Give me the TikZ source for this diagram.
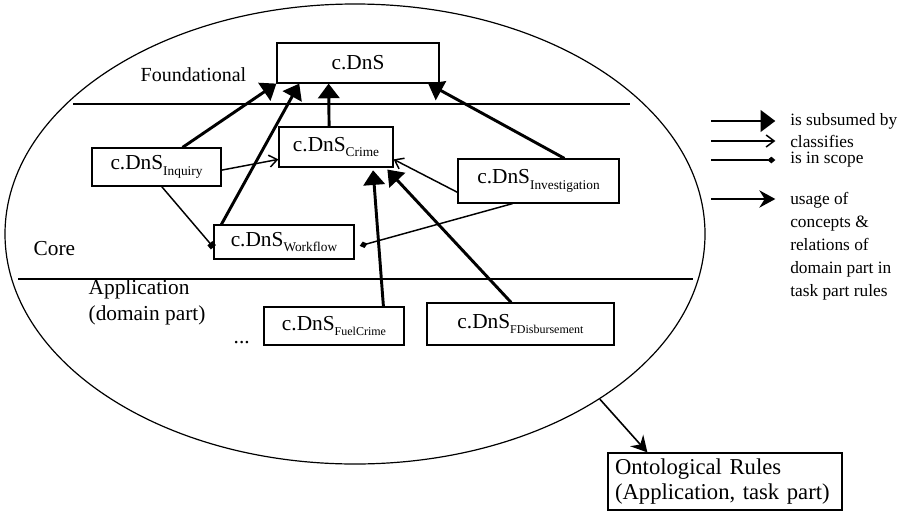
\documentclass[tikz,border=0pt]{standalone}
\usepackage{fontspec}
\setmainfont{Liberation Serif}
\usetikzlibrary{arrows.meta,calc,shapes.geometric}

% c.DnS with a lowered, smaller subscript
\newcommand{\dns}[2][10]{c.DnS\raisebox{-0.55ex}{\fontsize{#1}{#1}\selectfont #2}}

\begin{document}
\begin{tikzpicture}[x=0.75pt, y=-0.75pt,
                    every node/.style={font=\fontsize{16}{19}\selectfont},
                    dnsbox/.style={draw, line width=0.9pt, inner sep=0pt},
                    layer/.style={line width=0.9pt},
                    subsumed/.style={line width=2.2pt, -{Triangle[length=11pt, width=16pt]}},
                    classify/.style={line width=1.1pt, -{Straight Barb[length=6pt, width=9pt]}},
                    inscope/.style={line width=1.1pt, -{Diamond[length=6pt, width=5pt]}},
                    usage/.style={line width=1.2pt, -{Stealth[length=12pt, width=13pt, inset=4pt]}},
                    legend/.style={anchor=west, inner sep=0pt, font=\fontsize{13}{17.25}\selectfont, align=left}]

    \useasboundingbox (0,0) rectangle (905,521);

    % the domain ellipse and its layers
    \node[ellipse, draw, line width=0.9pt, minimum width=525pt, minimum height=345pt, inner sep=0pt] (domain) at (355,234) {};
    \draw[layer] (73,104) -- (630,104);   % foundational / core
    \draw[layer] (18,279) -- (693,279);   % core / application

    % layer names
    \node[anchor=base, font=\fontsize{15}{18}\selectfont] (found) at (193.5,81) {Foundational};
    \node[anchor=base west] (core) at (29,255) {Core};
    \node[anchor=base west, align=left] (app) at (84,320) {Application\\(domain part)};
    \node[anchor=base west] (dots) at (229,343) {...};

    % descriptions and situations
    \node[dnsbox, minimum width=121.5pt, minimum height=30pt] (top) at (358,63) {c.DnS};
    \node[dnsbox, minimum width=85.5pt, minimum height=30pt] (crime) at (336,147) {\dns{Crime}};
    \node[dnsbox, minimum width=96.75pt, minimum height=28.5pt] (inq) at (156.5,167) {\dns{Inquiry}};
    \node[dnsbox, minimum width=120.75pt, minimum height=33pt] (inv) at (538.5,181) {\dns{Investigation}};
    \node[dnsbox, minimum width=105pt, minimum height=25.5pt] (work) at (284,242) {\dns{Workflow}};
    \node[dnsbox, minimum width=105pt, minimum height=28.5pt] (fuel) at (334,326) {\dns[9]{FuelCrime}};
    \node[dnsbox, minimum width=140.25pt, minimum height=31.5pt] (disb) at (520.5,324) {\dns[9]{FDisbursement}};

    % rules box outside the ellipse
    \node[dnsbox, minimum height=42.75pt, inner xsep=5.25pt, text width=165pt, align=left,
          font=\fontsize{17}{18.75}\selectfont] (rules) at (725,481.5) {Ontological Rules\\(Application, task part)};

    % is subsumed by
    \draw[subsumed] ($(inq.north west)!0.7!(inq.north east)$) -- (top.south west);
    \draw[subsumed] ($(work.north west)+(8,0)$) -- ($(top.south west)!0.14!(top.south east)$);
    \draw[subsumed] ($(crime.north west)!0.44!(crime.north east)$) -- ($(top.south west)!0.32!(top.south east)$);
    \draw[subsumed] ($(inv.north west)!0.66!(inv.north east)$) -- ($(top.south west)!0.93!(top.south east)$);
    \draw[subsumed, shorten >=2pt] ($(fuel.north west)!0.85!(fuel.north east)$) -- ($(crime.south west)!0.82!(crime.south east)$);
    \draw[subsumed, shorten >=2pt] ($(disb.north west)!0.45!(disb.north east)$) -- ($(crime.south west)!0.93!(crime.south east)$);

    % classifies
    \draw[classify] ($(inq.north east)!0.58!(inq.south east)$) -- ($(crime.north west)!0.8!(crime.south west)$);
    \draw[classify] ($(inv.north west)!0.75!(inv.south west)$) -- ($(crime.north east)!0.8!(crime.south east)$);

    % is in scope
    \draw[line width=1.1pt, -{Square[length=4pt, width=5pt]}] ($(inq.south west)!0.54!(inq.south east)$) -- ($(work.north west)!0.65!(work.south west)$);
    \draw[inscope, shorten >=4pt] ($(inv.south west)!0.34!(inv.south east)$) -- ($(work.north east)!0.65!(work.south east)$);

    % domain part used by the task part rules
    \draw[usage] (domain.-34.3) -- ($(rules.north west)+(40,0)$);

    % legend
    \node[legend] (lsub) at (790,121) {is subsumed by};
    \node[legend] (lcls) at (790,141) {classifies};
    \node[legend] (lscp) at (790,160) {is in scope};
    \node[legend, anchor=north west] (luse) at (790,192) {usage of\\concepts \&\\relations of\\domain part in\\task part rules};
    \coordinate (k1) at (711,121);
    \coordinate (k2) at (711,141);
    \coordinate (k3) at (711,160);
    \coordinate (k4) at (711,199);
    \draw[subsumed, shorten >=11pt] (k1) -- (k1 -| lsub.west);
    \draw[classify, shorten >=11pt] (k2) -- (k2 -| lcls.west);
    \draw[inscope, shorten >=11pt] (k3) -- (k3 -| lscp.west);
    \draw[usage, shorten >=11pt] (k4) -- (k4 -| luse.west);
\end{tikzpicture}
\end{document}
